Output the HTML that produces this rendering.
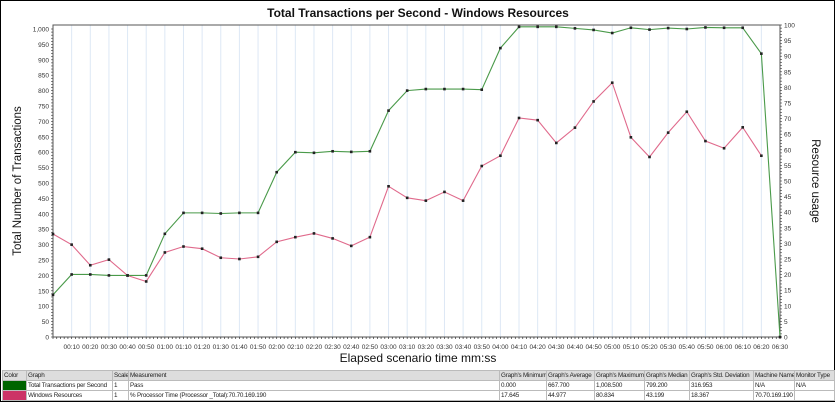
<!DOCTYPE html>
<html><head><meta charset="utf-8"><style>
body{margin:0;background:#fff;width:835px;height:402px;overflow:hidden;font-family:"Liberation Sans",sans-serif}
#wrap{position:absolute;left:0;top:0;width:833px;height:400px;border:1px solid #000}
table{position:absolute;left:1px;top:369px;border-collapse:collapse;font-size:6.3px;color:#222;table-layout:fixed;width:832px;letter-spacing:-0.2px}
td{border:1px solid #bbb;padding:0 1px;height:9px;line-height:9px;white-space:nowrap;overflow:hidden}
tr.h td{background:#ddd}
</style></head><body>
<div id="wrap">
<svg id="chart" width="835" height="368" style="position:absolute;left:-1px;top:-1px"></svg>
<table>
<colgroup><col style="width:24px"><col style="width:86px"><col style="width:16px"><col style="width:371px"><col style="width:47px"><col style="width:48px"><col style="width:50px"><col style="width:45px"><col style="width:64px"><col style="width:41px"><col style="width:40px"></colgroup>
<tr class="h"><td>Color</td><td>Graph</td><td>Scale</td><td>Measurement</td><td>Graph's Minimum</td><td>Graph's Average</td><td>Graph's Maximum</td><td>Graph's Median</td><td>Graph's Std. Deviation</td><td>Machine Name</td><td>Monitor Type</td></tr>
<tr><td style="background:#006400"></td><td>Total Transactions per Second</td><td>1</td><td>Pass</td><td>0.000</td><td>667.700</td><td>1,008.500</td><td>799.200</td><td>316.953</td><td>N/A</td><td>N/A</td></tr>
<tr><td style="background:#cc3366"></td><td>Windows Resources</td><td>1</td><td>% Processor Time (Processor _Total):70.70.169.190</td><td>17.645</td><td>44.977</td><td>80.834</td><td>43.199</td><td>18.367</td><td>70.70.169.190</td><td></td></tr>
</table>
</div>
<script>
const timeLabels=["00:10","00:20","00:30","00:40","00:50","01:00","01:10","01:20","01:30","01:40","01:50","02:00","02:10","02:20","02:30","02:40","02:50","03:00","03:10","03:20","03:30","03:40","03:50","04:00","04:10","04:20","04:30","04:40","04:50","05:00","05:10","05:20","05:30","05:40","05:50","06:00","06:10","06:20","06:30"];
const leftTicks=[0,50,100,150,200,250,300,350,400,450,500,550,600,650,700,750,800,850,900,950,1000];
const rightTicks=[0,5,10,15,20,25,30,35,40,45,50,55,60,65,70,75,80,85,90,95,100];
const transactions=[137,203,203,200,200,200,335,403,403,401,403,403,535,600,598,603,601,603,735,800,805,805,805,803,938,1007,1007,1007,1002,997,987,1004,998,1003,1000,1005,1004,1004,920,0];
const cpu=[33,29.6,23,24.8,19.7,17.8,27.1,29,28.3,25.4,25,25.7,30.5,32,33.2,31.6,29.2,32,48.3,44.6,43.7,46.5,43.7,54.8,58.1,70.2,69.5,62.2,67.1,75.5,81.5,64,57.7,65.5,72.2,62.8,60.5,67.2,58.1];
const X0=53,X1=780,Y0=337;
const x=i=>X0+i*(X1-X0)/39;
const yL=v=>Y0-v*0.308;
const yR=v=>Y0-v*3.12;
const svg=document.getElementById('chart');
const NS='http://www.w3.org/2000/svg';
function mk(t,a,p){const e=document.createElementNS(NS,t);for(const k in a)e.setAttribute(k,a[k]);(p||svg).appendChild(e);return e;}
let e;
e=mk('text',{x:418,y:17,'text-anchor':'middle','font-size':12,'font-weight':'bold',fill:'#111'});e.textContent='Total Transactions per Second - Windows Resources';


for(let i=1;i<=39;i++){e=mk('line',{x1:x(i),x2:x(i),y1:25,y2:Y0,stroke:'#dde8f5','stroke-width':1});

}
e=mk('rect',{x:X0,y:25,width:X1-X0,height:Y0-25,fill:'none',stroke:'#555','stroke-width':1});


for(let i=0;i<=195;i++){mk('line',{x1:X0+i*(X1-X0)/195,x2:X0+i*(X1-X0)/195,y1:Y0,y2:Y0+2,stroke:'#333','stroke-width':0.7});}
for(let v=0;v<=1000;v+=10){mk('line',{x1:X0-2,x2:X0,y1:yL(v),y2:yL(v),stroke:'#333','stroke-width':0.6});}
for(let v=0;v<=100;v+=1){mk('line',{x1:X1,x2:X1+2,y1:yR(v),y2:yR(v),stroke:'#333','stroke-width':0.6});}
leftTicks.forEach(v=>{e=mk('text',{x:X0-4,y:yL(v)+2.5,'text-anchor':'end','font-size':6.5,fill:'#333'});e.textContent=v.toLocaleString('en-US');

});
rightTicks.forEach(v=>{e=mk('text',{x:X1+4,y:yR(v)+2.5,'font-size':6.5,fill:'#333'});e.textContent=v;

});
timeLabels.forEach((t,i)=>{e=mk('text',{x:x(i+1),y:349,'text-anchor':'middle','font-size':6.5,fill:'#333'});e.textContent=t;

});
e=mk('text',{x:418,y:362,'text-anchor':'middle','font-size':12,fill:'#111'});e.textContent='Elapsed scenario time mm:ss';


e=mk('text',{x:0,y:0,'text-anchor':'middle','font-size':11.5,fill:'#111',transform:'translate(21,181) rotate(-90)'});e.textContent='Total Number of Transactions';


e=mk('text',{x:0,y:0,'text-anchor':'middle','font-size':11.5,fill:'#111',transform:'translate(812,181) rotate(90)'});e.textContent='Resource usage';


function series(vals,fy,col,name){
 const pts=vals.map((v,i)=>x(i)+','+fy(v)).join(' ');
 e=mk('polyline',{points:pts,fill:'none',stroke:col,'stroke-width':1.1});
 
 
 vals.forEach((v,i)=>{e=mk('rect',{x:x(i)-1.3,y:fy(v)-1.3,width:2.6,height:2.6,fill:'#222'});
 
 });
}
series(cpu,yR,'#e06a8c','cpu');
series(transactions,yL,'#4a9a4a','transactions');
</script>
</body></html>
